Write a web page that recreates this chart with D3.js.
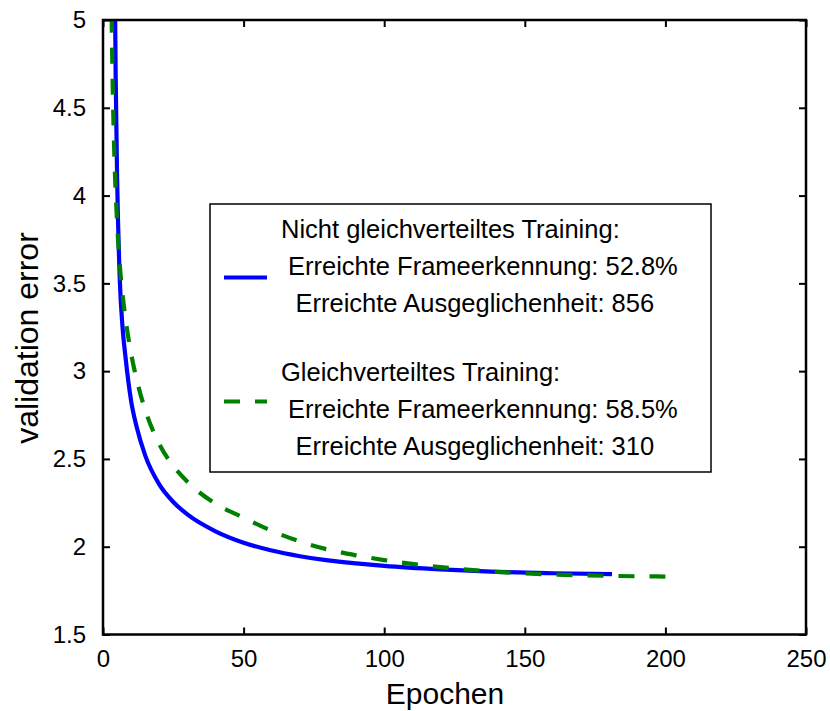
<!DOCTYPE html>
<html>
<head>
<meta charset="utf-8">
<script src="https://cdn.jsdelivr.net/npm/d3@7"></script>
<style>
  html, body { margin: 0; padding: 0; background: #fff; }
  svg { display: block; font-family: "Liberation Sans", Arial, sans-serif; }
</style>
</head>
<body>
<svg id="chart" width="830" height="711"></svg>
<script>
// Validation error per epoch, non-uniform training (solid blue)
const epochsA = [4, 4.5, 5, 6, 7, 8, 10, 12, 15, 20, 25, 30, 40, 50, 60, 70, 80, 90, 100, 120, 140, 160, 181];
const errorA  = [5.61, 4.69, 4.12, 3.51, 3.24, 3.08, 2.83, 2.68, 2.52, 2.355, 2.255, 2.184, 2.088, 2.023, 1.978, 1.946, 1.922, 1.905, 1.891, 1.871, 1.857, 1.849, 1.844];

// Validation error per epoch, uniform training (dashed green)
const epochsB = [3, 3.5, 4, 5, 6, 7, 8, 10, 12, 15, 20, 25, 30, 40, 50, 60, 70, 80, 90, 100, 120, 140, 160, 180, 200];
const errorB  = [5.1, 4.58, 4.25, 3.85, 3.6, 3.43, 3.3, 3.1, 2.95, 2.78, 2.585, 2.46, 2.37, 2.245, 2.165, 2.09, 2.03, 1.984, 1.951, 1.924, 1.884, 1.857, 1.842, 1.834, 1.83];

const xTicks = [0, 50, 100, 150, 200, 250];
const yTicks = [1.5, 2, 2.5, 3, 3.5, 4, 4.5, 5];

const legendLinesA = ["Nicht gleichverteiltes Training:", "Erreichte Frameerkennung: 52.8%", "Erreichte Ausgeglichenheit: 856"];
const legendLinesB = ["Gleichverteiltes Training:", "Erreichte Frameerkennung: 58.5%", "Erreichte Ausgeglichenheit: 310"];

const svg = d3.select("#chart");
const pLeft = 103, pRight = 806, pTop = 20, pBottom = 634.5;

const x = d3.scaleLinear().domain([0, 250]).range([pLeft, pRight]);
const y = d3.scaleLinear().domain([1.5, 5]).range([pBottom, pTop]);

svg.append("defs").append("clipPath").attr("id", "plotClip")
  .append("rect").attr("x", pLeft).attr("y", pTop)
  .attr("width", pRight - pLeft).attr("height", pBottom - pTop);

// Curves
const line = d3.line().x(d => x(d[0])).y(d => y(d[1])).curve(d3.curveMonotoneX);
const g = svg.append("g").attr("clip-path", "url(#plotClip)");
g.append("path")
  .datum(d3.zip(epochsA, errorA))
  .attr("d", line)
  .attr("fill", "none").attr("stroke", "#0000ff").attr("stroke-width", 4.2);
const dashOn = 16, dashOff = 15;
const greenPath = g.append("path")
  .datum(d3.zip(epochsB, errorB))
  .attr("d", line)
  .attr("fill", "none").attr("stroke", "#008000").attr("stroke-width", 4.2)
  .attr("stroke-dasharray", `${dashOn},${dashOff}`);
// Shift the dash pattern so the line finishes on a full dash
const totalLen = greenPath.node().getTotalLength();
greenPath.attr("stroke-dashoffset", dashOn - (totalLen % (dashOn + dashOff)));

// Axes with inward ticks on all four sides
const tickLen = 7;
const fontTick = 24;
const axB = d3.axisBottom(x).tickValues(xTicks).tickSizeInner(-tickLen).tickSizeOuter(0).tickPadding(tickLen + 8).tickFormat(d3.format("d"));
const axT = d3.axisTop(x).tickValues(xTicks).tickSizeInner(-tickLen).tickSizeOuter(0).tickFormat("");
const axL = d3.axisLeft(y).tickValues(yTicks).tickSizeInner(-tickLen).tickSizeOuter(0).tickPadding(tickLen + 10).tickFormat(d => d3.format("")(d));
const axR = d3.axisRight(y).tickValues(yTicks).tickSizeInner(-tickLen).tickSizeOuter(0).tickFormat("");

function style(sel) {
  sel.select(".domain").remove();
  sel.selectAll("line").attr("stroke", "#000").attr("stroke-width", 2);
  sel.selectAll("text").attr("fill", "#000").style("font-size", fontTick + "px")
    .style("font-family", "'Liberation Sans', Arial, sans-serif");
}
svg.append("g").attr("transform", `translate(0,${pBottom})`).call(axB).call(style);
svg.append("g").attr("transform", `translate(0,${pTop})`).call(axT).call(style);
svg.append("g").attr("transform", `translate(${pLeft},0)`).call(axL).call(style);
svg.append("g").attr("transform", `translate(${pRight},0)`).call(axR).call(style);

// Frame
svg.append("rect").attr("x", pLeft).attr("y", pTop)
  .attr("width", pRight - pLeft).attr("height", pBottom - pTop)
  .attr("fill", "none").attr("stroke", "#000").attr("stroke-width", 2.5);

// Axis titles
svg.append("text").attr("x", 445).attr("y", 704).attr("text-anchor", "middle")
  .style("font-size", "30px").text("Epochen");
svg.append("text").attr("transform", "translate(38,338) rotate(-90)")
  .attr("text-anchor", "middle").style("font-size", "32px").text("validation error");

// Legend
const lg = svg.append("g");
lg.append("rect").attr("x", 210).attr("y", 204).attr("width", 501).attr("height", 268)
  .attr("fill", "#fff").attr("stroke", "#000").attr("stroke-width", 1.5);
lg.append("line").attr("x1", 224).attr("x2", 267).attr("y1", 277.5).attr("y2", 277.5)
  .attr("stroke", "#0000ff").attr("stroke-width", 4.2);
lg.append("line").attr("x1", 224).attr("x2", 267).attr("y1", 401.5).attr("y2", 401.5)
  .attr("stroke", "#008000").attr("stroke-width", 4.2).attr("stroke-dasharray", `${dashOn},${dashOff}`);
const lx = [281, 288, 295.5];
const lyA = [238, 275, 312];
const lyB = [381, 418, 455];
const legendFont = "25.5px";
legendLinesA.forEach((t, i) => lg.append("text").attr("x", lx[i]).attr("y", lyA[i]).style("font-size", legendFont).text(t));
legendLinesB.forEach((t, i) => lg.append("text").attr("x", lx[i]).attr("y", lyB[i]).style("font-size", legendFont).text(t));
</script>
</body>
</html>
